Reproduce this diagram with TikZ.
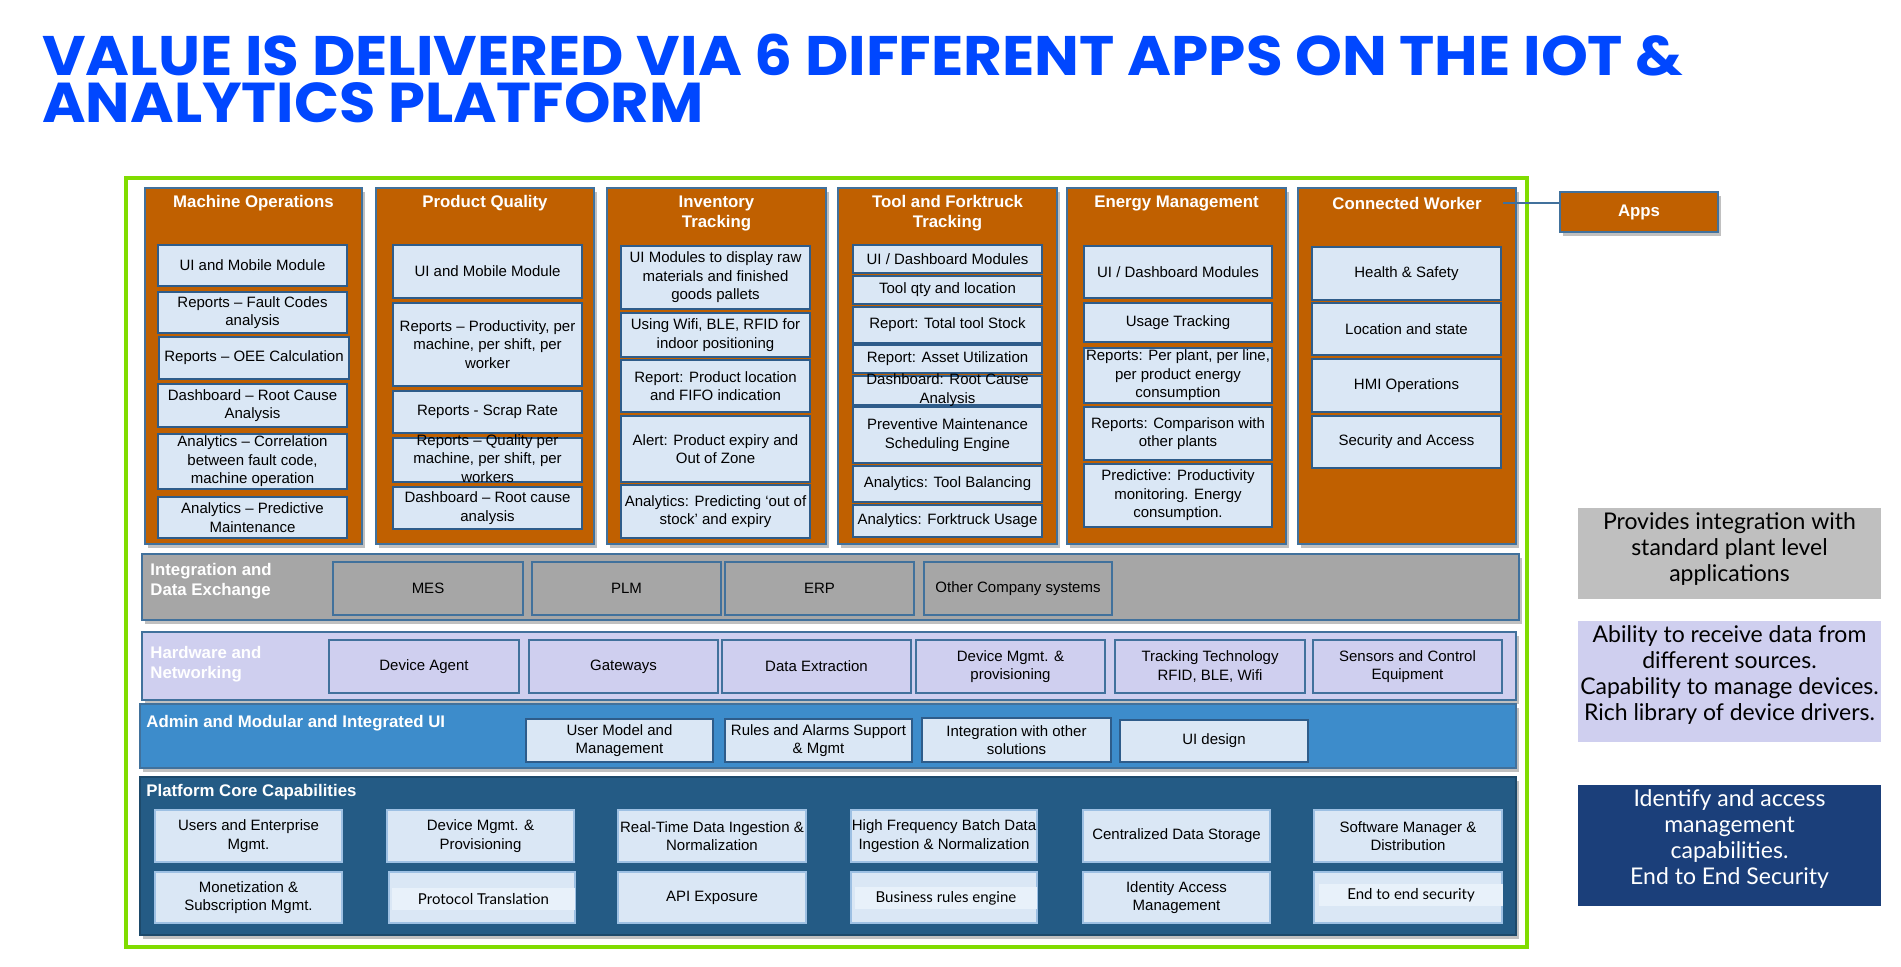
\documentclass[tikz,border=0pt]{standalone}
\usepackage{fontspec}
\usepackage{graphicx}
\setmainfont{Liberation Sans}
\newfontfamily\notefont{Lato}
\newfontfamily\titlefont{Poppins}
\usetikzlibrary{shadows}
\definecolor{ttlblue}{HTML}{0047FF}
\definecolor{frgreen}{HTML}{80DC00}
\definecolor{appor}{HTML}{C06000}
\definecolor{colbord}{HTML}{41719C}
\definecolor{ibfill}{HTML}{DAE7F5}
\definecolor{ibord}{HTML}{2E5C8A}
\definecolor{intgray}{HTML}{A6A6A6}
\definecolor{lav}{HTML}{CFCFEF}
\definecolor{admblue}{HTML}{3D8CCB}
\definecolor{platblue}{HTML}{245B85}
\definecolor{pbord}{HTML}{9DC0E3}
\definecolor{ovfill}{HTML}{E8F1FA}
\definecolor{ngray}{HTML}{BFBFBF}
\definecolor{ndark}{HTML}{1B3F7A}
\newcommand\fs[2]{\fontsize{#1}{#2}\selectfont}
\newcommand\bx[7]{\node[#2,minimum width={(#5-#3)*0.5pt},minimum height={(#6-#4)*0.5pt}] (#1) at ({(#3+#5)/2},{(#4+#6)/2}) {#7};}
\newcommand\ovf[1]{\smash{\raisebox{-0.22em}{\begin{tabular}{@{}c@{}}#1\end{tabular}}}}
\tikzset{
  frame/.style={draw=frgreen,line width=2pt,inner sep=0pt,outer sep=0pt},
  shad/.style={drop shadow={shadow xshift=1.5pt,shadow yshift=-2pt,opacity=0.35,fill=black!70}},
  col/.style={draw=colbord,line width=0.75pt,fill=appor,inner sep=0pt,outer sep=0pt,shad},
  hdr/.style={text=white,font=\bfseries\fs{8.4pt}{10pt},align=center,inner sep=0pt},
  ibox/.style={draw=ibord,line width=1pt,fill=ibfill,inner sep=0pt,outer sep=0pt,align=center,font=\fs{7.5pt}{9.25pt},text=black},
  band/.style={draw=colbord,line width=0.75pt,inner sep=0pt,outer sep=0pt,shad},
  lbl/.style={anchor=west,text=white,font=\bfseries\fs{8.4pt}{10pt},align=left,inner sep=0pt},
  ibox int/.style={ibox,fill=intgray,draw=colbord},
  ibox hw/.style={ibox,fill=lav,draw=colbord},
  pbox/.style={ibox,draw=pbord,line width=0.75pt},
  ovl/.style={fill=ovfill,inner sep=0pt,outer sep=0pt,font=\notefont\fs{7.5pt}{9pt},text=black},
  note/.style={inner sep=0pt,outer sep=0pt,align=center},
  notetxt/.style={inner sep=0pt,align=center,font=\notefont\fs{11.5pt}{13pt}},
  conn/.style={draw=colbord,line width=1pt}
}
\begin{document}
\begin{tikzpicture}[x=0.5pt,y=-0.5pt]
\useasboundingbox (0,0) rectangle (1901,966);
\fill[white] (0,0) rectangle (1901,966);
% title
\node[anchor=south west,inner sep=0pt,text=ttlblue] (t1) at (42,77) {\titlefont\bfseries\resizebox{820.5pt}{20.75pt}{VALUE IS DELIVERED VIA 6 DIFFERENT APPS ON THE IOT \&}};
\node[anchor=south west,inner sep=0pt,text=ttlblue] (t2) at (42,123.5) {\titlefont\bfseries\resizebox{330.5pt}{20pt}{ANALYTICS PLATFORM}};
% frame
\bx{frm}{frame}{126}{178}{1527}{947}{}
% columns
\bx{c1}{col}{145}{188}{362}{544}{}
\bx{c2}{col}{376}{188}{594}{544}{}
\bx{c3}{col}{607}{188}{826}{544}{}
\bx{c4}{col}{838}{188}{1057}{544}{}
\bx{c5}{col}{1067}{188}{1286}{544}{}
\bx{c6}{col}{1298}{188}{1516}{544}{}
\node[hdr] (h1) at (253.5,203) {Machine Operations};
\node[hdr] (h2) at (485,203) {Product Quality};
\node[hdr] (h3) at (716.5,213) {Inventory\\Tracking};
\node[hdr] (h4) at (947.5,213) {Tool and Forktruck\\Tracking};
\node[hdr] (h5) at (1176.5,203) {Energy Management};
\node[hdr] (h6) at (1407,203) {Connected Worker};
% column 1
\bx{a1}{ibox}{158}{245}{347}{286}{UI and Mobile Module}
\bx{a2}{ibox}{158}{292}{347}{333}{Reports – Fault Codes\\analysis}
\bx{a3}{ibox}{159}{337}{349}{379}{Reports – OEE Calculation}
\bx{a4}{ibox}{158}{384}{347}{427}{Dashboard – Root Cause\\Analysis}
\bx{a5}{ibox}{158}{434}{347}{489}{Analytics – Correlation\\between fault code,\\machine operation}
\bx{a6}{ibox}{158}{497}{347}{538}{Analytics – Predictive\\Maintenance}
% column 2
\bx{b1}{ibox}{393}{245}{582}{298}{UI and Mobile Module}
\bx{b2}{ibox}{393}{303}{582}{386}{Reports – Productivity, per\\machine, per shift, per\\worker}
\bx{b3}{ibox}{393}{391}{582}{433}{Reports - Scrap Rate}
\bx{b4}{ibox}{393}{438}{582}{482}{\ovf{Reports – Quality per\\machine, per shift, per\\workers}}
\bx{b5}{ibox}{393}{487}{582}{529}{Dashboard – Root cause\\analysis}
% column 3
\bx{d1}{ibox}{621}{246}{810}{309}{UI Modules to display raw\\materials and finished\\goods pallets}
\bx{d2}{ibox}{621}{313}{810}{357}{Using Wifi, BLE, RFID for\\indoor positioning}
\bx{d3}{ibox}{621}{360}{810}{412}{Report: Product location\\and FIFO indication}
\bx{d4}{ibox}{621}{416}{810}{482}{Alert: Product expiry and\\Out of Zone}
\bx{d5}{ibox}{621}{485}{810}{538}{Analytics: Predicting ‘out of\\stock’ and expiry}
% column 4
\bx{e1}{ibox}{853}{245}{1042}{273}{UI / Dashboard Modules}
\bx{e2}{ibox}{853}{276}{1042}{304}{Tool qty and location}
\bx{e3}{ibox}{853}{307}{1042}{343}{Report: Total tool Stock}
\bx{e4}{ibox}{853}{345}{1042}{373}{Report: Asset Utilization}
\bx{e5}{ibox}{853}{376}{1042}{405}{\ovf{Dashboard: Root Cause\\Analysis}}
\bx{e6}{ibox}{853}{407}{1042}{463}{Preventive Maintenance\\Scheduling Engine}
\bx{e7}{ibox}{853}{466}{1042}{502}{Analytics: Tool Balancing}
\bx{e8}{ibox}{853}{505}{1042}{537}{Analytics: Forktruck Usage}
% column 5
\bx{f1}{ibox}{1084}{246}{1272}{298}{UI / Dashboard Modules}
\bx{f2}{ibox}{1084}{303}{1272}{342}{Usage Tracking}
\bx{f3}{ibox}{1084}{348}{1272}{403}{Reports: Per plant, per line,\\per product energy\\consumption}
\bx{f4}{ibox}{1084}{407}{1272}{460}{Reports: Comparison with\\other plants}
\bx{f5}{ibox}{1084}{464}{1272}{527}{Predictive: Productivity\\monitoring. Energy\\consumption.}
% column 6
\bx{g1}{ibox}{1312}{247}{1501}{300}{Health \& Safety}
\bx{g2}{ibox}{1312}{303}{1501}{355}{Location and state}
\bx{g3}{ibox}{1312}{359}{1501}{412}{HMI Operations}
\bx{g4}{ibox}{1312}{416}{1501}{468}{Security and Access}
% apps
\bx{apps}{col}{1560}{192}{1718}{232}{}
\node[hdr] (appst) at (apps) {Apps};
\coordinate (cwl) at (1503,203);
\draw[conn] (cwl) -- (apps.west |- cwl);
% integration band
\bx{bint}{band,fill=intgray}{142}{554}{1519}{620}{}
\node[lbl] (lint) at (150,581) {Integration and\\Data Exchange};
\bx{i1}{ibox int}{333}{562}{523}{615}{MES}
\bx{i2}{ibox int}{532}{562}{721}{615}{PLM}
\bx{i3}{ibox int}{725}{562}{914}{615}{ERP}
\bx{i4}{ibox int}{924}{562}{1112}{615}{Other Company systems}
% hardware band
\bx{bhw}{band,fill=lav}{142}{632}{1516}{700}{}
\node[lbl] (lhw) at (150,664) {Hardware and\\Networking};
\bx{w1}{ibox hw}{329}{640}{519}{693}{Device Agent}
\bx{w2}{ibox hw}{529}{640}{718}{693}{Gateways}
\bx{w3}{ibox hw}{722}{640}{911}{693}{Data Extraction}
\bx{w4}{ibox hw}{916}{640}{1105}{693}{Device Mgmt. \&\\provisioning}
\bx{w5}{ibox hw}{1115}{640}{1305}{693}{Tracking Technology\\RFID, BLE, Wifi}
\bx{w6}{ibox hw}{1313}{640}{1502}{693}{Sensors and Control\\Equipment}
% admin band
\bx{badm}{band,fill=admblue,draw=colbord}{140}{704}{1516}{768}{}
\node[lbl] (ladm) at (146,723) {Admin and Modular and Integrated UI};
\bx{m1}{ibox}{526}{719}{713}{762}{User Model and\\Management}
\bx{m2}{ibox}{725}{719}{912}{762}{Rules and Alarms Support\\\& Mgmt}
\bx{m3}{ibox}{922}{718}{1111}{762}{Integration with other\\solutions}
\bx{m4}{ibox}{1120}{720}{1308}{762}{UI design}
% platform band
\bx{bpl}{band,fill=platblue,draw=platblue!80!black}{140}{777}{1516}{935}{}
\node[lbl] (lpl) at (146,792) {Platform Core Capabilities};
\bx{p1}{pbox}{155}{810}{342}{862}{Users and Enterprise\\Mgmt.}
\bx{p2}{pbox}{387}{810}{574}{862}{Device Mgmt. \&\\Provisioning}
\bx{p3}{pbox}{618}{810}{806}{862}{Real-Time Data Ingestion \&\\Normalization}
\bx{p4}{pbox}{851}{810}{1037}{862}{High Frequency Batch Data\\Ingestion \& Normalization}
\bx{p5}{pbox}{1083}{810}{1270}{862}{Centralized Data Storage}
\bx{p6}{pbox}{1314}{810}{1502}{862}{Software Manager \&\\Distribution}
\bx{q1}{pbox}{155}{872}{342}{923}{Monetization \&\\Subscription Mgmt.}
\bx{q2}{pbox}{389}{872}{575}{923}{}
\bx{q3}{pbox}{618}{872}{806}{923}{API Exposure}
\bx{q4}{pbox}{851}{872}{1037}{923}{}
\bx{q5}{pbox}{1083}{872}{1270}{923}{Identity Access\\Management}
\bx{q6}{pbox}{1314}{872}{1502}{923}{}
\bx{o2}{ovl}{392}{888}{575}{910}{Protocol Translation}
\bx{o4}{ovl}{855}{887}{1037}{909}{Business rules engine}
\bx{o6}{ovl}{1319}{884}{1503}{906}{End to end security}
% notes
\bx{n1}{note,fill=ngray}{1578}{508}{1881}{599}{}
\node[notetxt,text=black] (n1t) at (1729.5,549) {Provides integration with\\standard plant level\\applications};
\bx{n2}{note,fill=lav}{1578}{621}{1881}{742}{}
\node[notetxt,text=black] (n2t) at (1729.5,675) {Ability to receive data from\\different sources.\\Capability to manage devices.\\Rich library of device drivers.};
\bx{n3}{note,fill=ndark}{1578}{785}{1881}{906}{}
\node[notetxt,text=white] (n3t) at (1729.5,839) {Identify and access\\management\\capabilities.\\End to End Security};
\end{tikzpicture}
\end{document}
